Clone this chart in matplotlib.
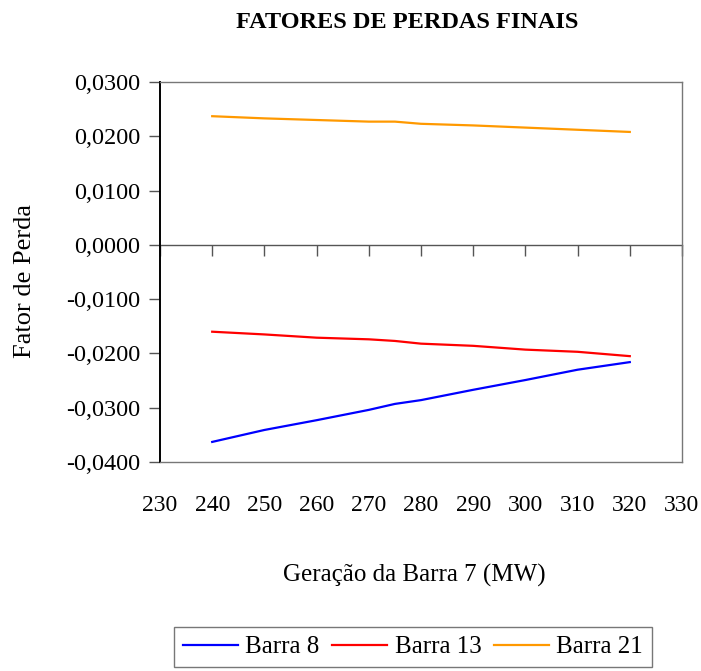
import matplotlib
matplotlib.use("Agg")
import matplotlib.pyplot as plt
from matplotlib.ticker import FuncFormatter

plt.rcParams['font.family'] = ['Liberation Serif', 'DejaVu Serif']

# Geração da barra 7 (MW)
geracao = [240, 250, 260, 270, 275, 280, 290, 300, 310, 320]

barra8 = [-0.0363, -0.0341, -0.0323, -0.0304, -0.0293, -0.0286, -0.0267, -0.0249, -0.0230, -0.0216]
barra13 = [-0.0160, -0.0165, -0.0171, -0.0174, -0.0177, -0.0182, -0.0186, -0.0193, -0.0197, -0.0205]
barra21 = [0.0237, 0.0233, 0.0230, 0.0227, 0.0227, 0.0223, 0.0220, 0.0216, 0.0212, 0.0208]

series = [("Barra 8", barra8, "#0000FF"),
          ("Barra 13", barra13, "#FF0000"),
          ("Barra 21", barra21, "#FF9900")]

x_ticks = [230, 240, 250, 260, 270, 280, 290, 300, 310, 320, 330]
y_ticks = [-0.04, -0.03, -0.02, -0.01, 0.0, 0.01, 0.02, 0.03]

W, H = 701, 671
fig = plt.figure(figsize=(W / 100, H / 100), dpi=100)
fig.patch.set_facecolor("white")

L, R, T, B = 160, 682, 82, 462
ax = fig.add_axes([L / W, (H - B) / H, (R - L) / W, (B - T) / H])

handles = []
for name, vals, color in series:
    h, = ax.plot(geracao, vals, color=color, lw=1.6, label=name, solid_joinstyle="round")
    handles.append(h)

ax.set_xlim(230, 330)
ax.set_ylim(-0.04, 0.03)

ax.set_yticks(y_ticks)
ax.yaxis.set_major_formatter(FuncFormatter(lambda v, p: f"{v:.4f}".replace(".", ",").replace("-0,0000", "0,0000")))
ax.tick_params(axis="y", direction="out", length=8, width=1, color="#555555", labelsize=17.5, pad=6)

# category labels along the bottom of the plot box, no marks there
ax.set_xticks(x_ticks)
ax.set_xticklabels([str(v) for v in x_ticks])
ax.tick_params(axis="x", length=0, labelsize=17, pad=24)

# horizontal axis drawn across zero, with tick marks hanging below it
zero_frac = (0 - (-0.04)) / (0.03 - (-0.04))
sec = ax.secondary_xaxis(zero_frac)
sec.set_xticks(x_ticks)
sec.xaxis.set_ticklabels([])
sec.xaxis.set_ticks_position("bottom")
sec.tick_params(axis="x", direction="out", length=8, width=1, color="#555555")
for s in ["bottom", "top"]:
    sec.spines[s].set_color("#555555")
    sec.spines[s].set_linewidth(1.0)

for s in ["top", "right", "bottom"]:
    ax.spines[s].set_color("#777777")
    ax.spines[s].set_linewidth(1.0)
ax.spines["left"].set_color("black")
ax.spines["left"].set_linewidth(1.4)

fig.text(407 / W, 1 - 22 / H, "FATORES DE PERDAS FINAIS", ha="center", va="center",
         fontsize=17.5, fontweight="bold")
fig.text(414 / W, 1 - 575 / H, "Geração da Barra 7 (MW)", ha="center", va="center", fontsize=18)
fig.text(25 / W, 1 - 281 / H, "Fator de Perda", ha="center", va="center", rotation=90, fontsize=19)

leg = fig.legend(handles=handles, loc="center", bbox_to_anchor=(413 / W, 1 - 647 / H),
                 ncol=3, fontsize=18, frameon=True, fancybox=False, handlelength=2.2,
                 handletextpad=0.3, columnspacing=0.5, borderpad=0.35, borderaxespad=0)
leg.get_frame().set_edgecolor("#555555")
leg.get_frame().set_linewidth(1.0)

fig.savefig("out.png", dpi=100)
